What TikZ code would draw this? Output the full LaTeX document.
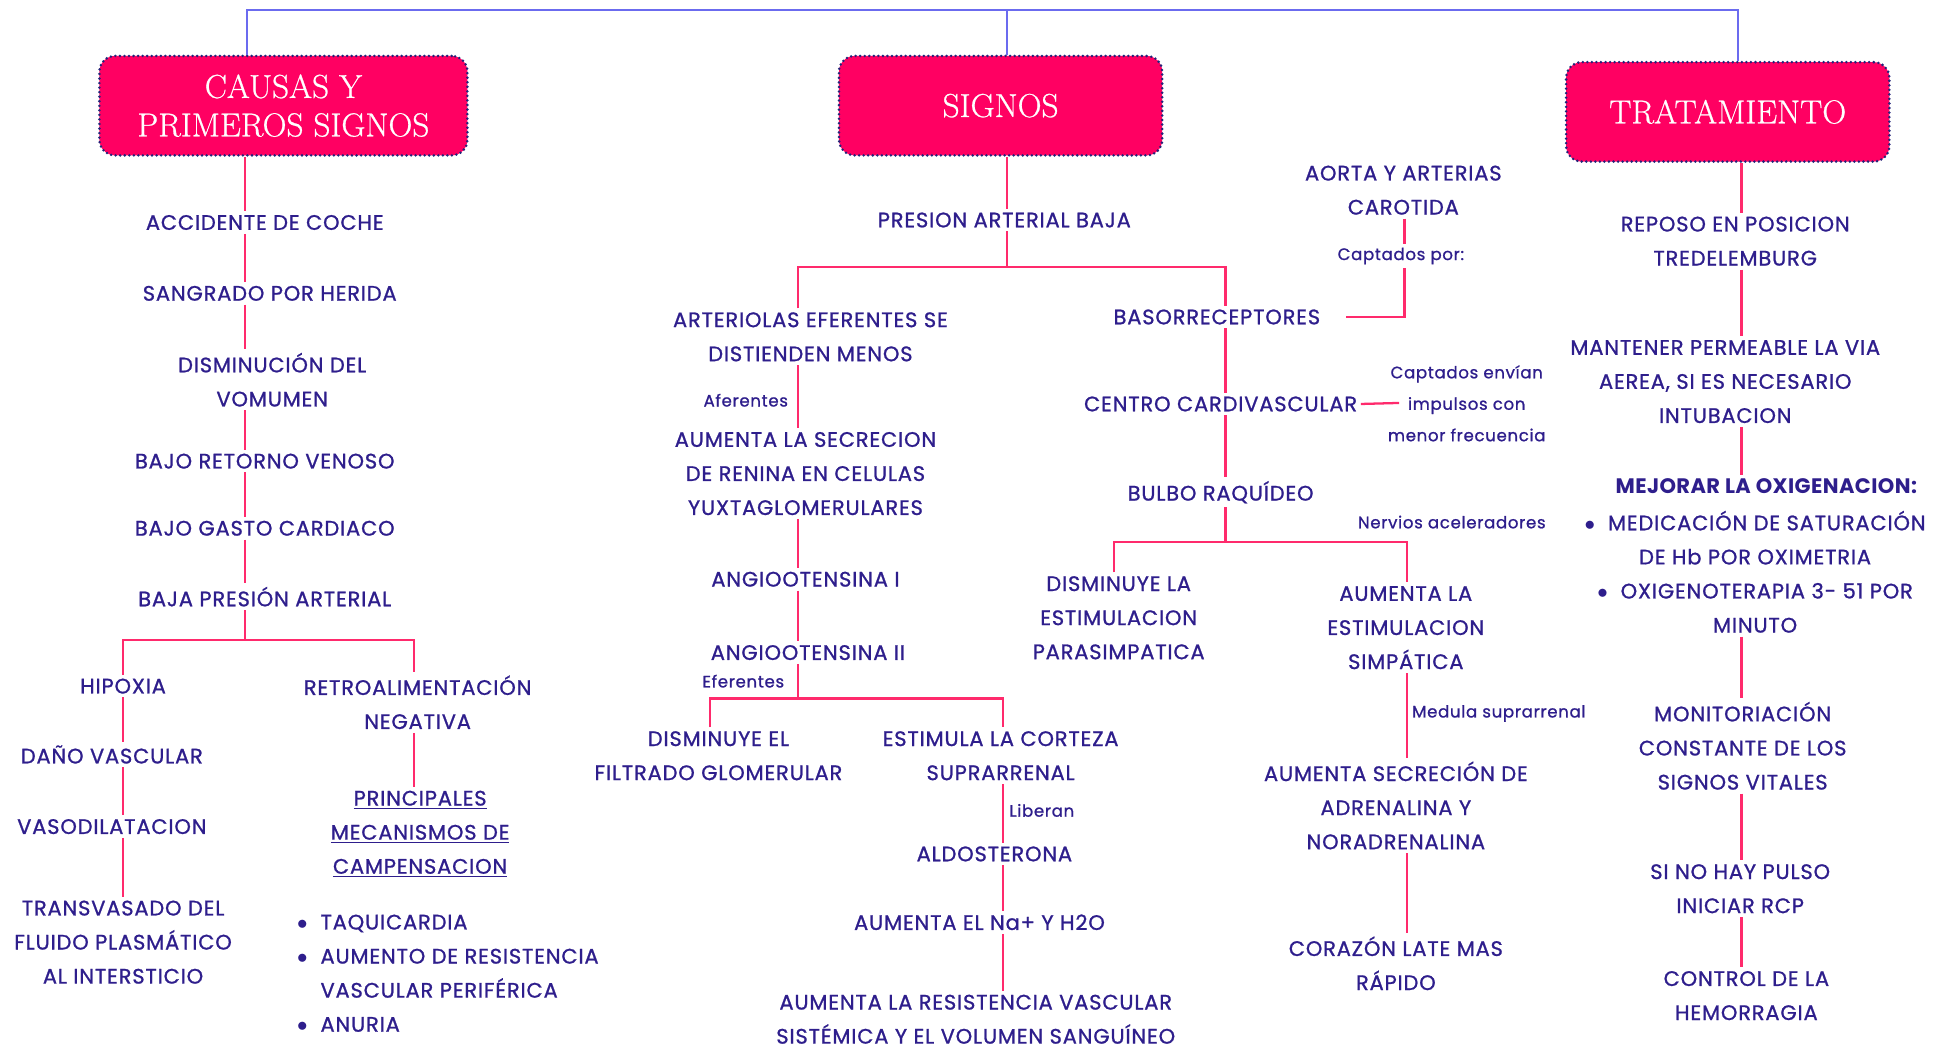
\documentclass[tikz,border=0pt]{standalone}
\usepackage{fontspec}
\usepackage{xcolor}
\usepackage{tikz}
\usetikzlibrary{positioning}

\newfontfamily\bodyfont[LetterSpace=4, FakeBold=1]{Poppins}
\newfontfamily\boldfont[LetterSpace=2]{Poppins Bold}
\newfontfamily\headfont[FakeBold=0.7]{Latin Modern Roman}

\definecolor{ink}{HTML}{2E1E8C}
\definecolor{boxpink}{HTML}{FF0062}
\definecolor{linkpink}{HTML}{FF2A6C}
\definecolor{topblue}{HTML}{6B6BEF}
\definecolor{dotnavy}{HTML}{23237A}

\begin{document}
\begin{tikzpicture}[x=0.025cm, y=-0.025cm]

    % Define style for boxes
    \tikzstyle{main} = [rectangle, rounded corners=9pt, minimum height=2cm, fill=boxpink, draw=dotnavy, line width=1.6pt, dash pattern=on 0pt off 2.6pt, line cap=round, text=white, align=center, font=\headfont\fontsize{19}{22}\selectfont]
    \tikzstyle{sub} = [text=ink, align=center, inner sep=2pt, font=\bodyfont\fontsize{12}{19.5}\selectfont]
    \tikzstyle{note} = [text=ink, align=center, inner sep=2pt, font=\bodyfont\fontsize{9.5}{18}\selectfont]
    \tikzstyle{link} = [draw=linkpink, line width=1.3pt]
    \tikzstyle{top} = [draw=topblue, line width=1.2pt]

    \useasboundingbox (0,0) rectangle (1568,843);

    % Spines
    \coordinate (tl) at (199,8);
    \coordinate (tm) at (810,8);
    \coordinate (tr) at (1398,8);
    \coordinate (lsp) at (197,0);
    \coordinate (hsp) at (99,0);
    \coordinate (rsp) at (333,0);
    \coordinate (msp) at (642,0);
    \coordinate (csp) at (807,0);
    \coordinate (bsp) at (986,0);
    \coordinate (asp) at (1130,0);
    \coordinate (ssp) at (1132,0);
    \coordinate (tsp) at (1401,0);

    % Heads
    \node (causas) [main, minimum width=7.4cm] at (228,85) {CAUSAS Y\\PRIMEROS SIGNOS};
    \node (signos) [main, minimum width=6.5cm] at (805,85) {SIGNOS};
    \node (tratamiento) [main, minimum width=6.5cm] at (1390,90) {TRATAMIENTO};

    % Causas
    \node (accidente) [sub] at (213,179) {ACCIDENTE DE COCHE};
    \node (sangrado) [sub] at (217,236) {SANGRADO POR HERIDA};
    \node (disminucion) [sub] at (219,305.5) {DISMINUCIÓN DEL\\VOMUMEN};
    \node (retorno) [sub] at (213,371) {BAJO RETORNO VENOSO};
    \node (gasto) [sub] at (213,425) {BAJO GASTO CARDIACO};
    \node (bajapres) [sub] at (213,480) {BAJA PRESIÓN ARTERIAL};
    \coordinate (split1) at (197,515);
    \node (hipoxia) [sub] at (99,552) {HIPOXIA};
    \node (dano) [sub] at (90,607) {DAÑO VASCULAR};
    \node (vasodil) [sub] at (90,665) {VASODILATACION};
    \node (transvasado) [sub] at (99,758) {TRANSVASADO DEL\\FLUIDO PLASMÁTICO\\AL INTERSTICIO};
    \node (retroal) [sub] at (336,565) {RETROALIMENTACIÓN\\NEGATIVA};
    \node (principales) [sub] at (338,671) {\underline{PRINCIPALES}\\\underline{MECANISMOS DE}\\\underline{CAMPENSACION}};
    \node (mecanismos) [sub, align=left, anchor=west] at (236,783) {$\bullet$\ \ TAQUICARDIA\\$\bullet$\ \ AUMENTO DE RESISTENCIA\\\phantom{$\bullet$\ \ }VASCULAR PERIFÉRICA\\$\bullet$\ \ ANURIA};

    % Signos
    \node (presart) [sub] at (808,177) {PRESION ARTERIAL BAJA};
    \coordinate (split2) at (810,215);
    \node (arteriolas) [sub] at (652,271) {ARTERIOLAS EFERENTES SE\\DISTIENDEN MENOS};
    \node (aferentes) [note] at (600,322) {Aferentes};
    \node (renina) [sub] at (648,381) {AUMENTA LA SECRECION\\DE RENINA EN CELULAS\\YUXTAGLOMERULARES};
    \node (angioi) [sub] at (648,466) {ANGIOOTENSINA I};
    \node (angioii) [sub] at (650,525) {ANGIOOTENSINA II};
    \node (eferentes) [note] at (598,548) {Eferentes};
    \coordinate (split3) at (642,562);
    \node (filtrado) [sub] at (578,608) {DISMINUYE EL\\FILTRADO GLOMERULAR};
    \node (corteza) [sub] at (805,608) {ESTIMULA LA CORTEZA\\SUPRARRENAL};
    \node (liberan) [note, anchor=west] at (809,652) {Liberan};
    \node (aldosterona) [sub] at (800,687) {ALDOSTERONA};
    \node (sodio) [sub] at (788,742) {AUMENTA EL Na+ Y H2O};
    \node (resistencia) [sub] at (785,820) {AUMENTA LA RESISTENCIA VASCULAR\\SISTÉMICA Y EL VOLUMEN SANGUÍNEO};

    \node (basorrec) [sub] at (979,255) {BASORRECEPTORES};
    \node (aorta) [sub] at (1129,153) {AORTA Y ARTERIAS\\CAROTIDA};
    \node (captados) [note] at (1127,206) {Captados por:};
    \node (centro) [sub] at (982,325) {CENTRO CARDIVASCULAR};
    \node (impulsos) [note] at (1180,324.5) {Captados envían\\impulsos con\\menor frecuencia};
    \node (bulbo) [sub] at (982,396) {BULBO RAQUÍDEO};
    \node (nervios) [note] at (1168,420) {Nervios aceleradores};
    \coordinate (split4) at (986,436);
    \node (parasimp) [sub] at (900,497) {DISMINUYE LA\\ESTIMULACION\\PARASIMPATICA};
    \node (simpatica) [sub] at (1131,505) {AUMENTA LA\\ESTIMULACION\\SIMPÁTICA};
    \node (medula) [note, anchor=west] at (1133,574) {Medula suprarrenal};
    \node (adrenalina) [sub] at (1123,648) {AUMENTA SECRECIÓN DE\\ADRENALINA Y\\NORADRENALINA};
    \node (corazon) [sub] at (1123,775) {CORAZÓN LATE MAS\\RÁPIDO};

    % Tratamiento
    \node (reposo) [sub] at (1396,194) {REPOSO EN POSICION\\TREDELEMBURG};
    \node (mantener) [sub] at (1388,307) {MANTENER PERMEABLE LA VIA\\AEREA, SI ES NECESARIO\\INTUBACION};
    \node (mejorar) [sub, font=\boldfont\fontsize{12}{19.5}\selectfont] at (1421,391) {MEJORAR LA OXIGENACION:};
    \node (oxig) [sub] at (1412,460) {$\bullet$\ \ MEDICACIÓN DE SATURACIÓN\\DE Hb POR OXIMETRIA\\$\bullet$\ \ OXIGENOTERAPIA 3- 51 POR\\MINUTO};
    \node (monitor) [sub] at (1402,600) {MONITORIACIÓN\\CONSTANTE DE LOS\\SIGNOS VITALES};
    \node (pulso) [sub] at (1400,715) {SI NO HAY PULSO\\INICIAR RCP};
    \node (control) [sub] at (1405,801) {CONTROL DE LA\\HEMORRAGIA};

    % Lines
    \draw[top] (causas.north -| tl) -- (tl) -- (tr) -- (tratamiento.north -| tr);
    \draw[top] (tm) -- (signos.north -| tm);

    \draw[link] (causas.south -| lsp) -- (accidente.north -| lsp);
    \draw[link] (accidente.south -| lsp) -- (sangrado.north -| lsp);
    \draw[link] (sangrado.south -| lsp) -- (disminucion.north -| lsp);
    \draw[link] (disminucion.south -| lsp) -- (retorno.north -| lsp);
    \draw[link] (retorno.south -| lsp) -- (gasto.north -| lsp);
    \draw[link] (gasto.south -| lsp) -- (bajapres.north -| lsp);
    \draw[link] (bajapres.south -| lsp) -- (split1);
    \draw[link] (hipoxia.north -| hsp) |- (split1) -| (retroal.north -| rsp);
    \draw[link] (hipoxia.south -| hsp) -- (dano.north -| hsp);
    \draw[link] (dano.south -| hsp) -- (vasodil.north -| hsp);
    \draw[link] (vasodil.south -| hsp) -- (transvasado.north -| hsp);
    \draw[link] (retroal.south -| rsp) -- (principales.north -| rsp);

    \draw[link] (signos.south -| tm) -- (presart.north -| tm);
    \draw[link] (presart.south -| tm) -- (split2);
    \draw[link] (arteriolas.north -| msp) |- (split2) -| (basorrec.north -| bsp);
    \draw[link] (arteriolas.south -| msp) -- (renina.north -| msp);
    \draw[link] (renina.south -| msp) -- (angioi.north -| msp);
    \draw[link] (angioi.south -| msp) -- (angioii.north -| msp);
    \draw[link] (angioii.south -| msp) -- (split3);
    \draw[link] (filtrado.north -| 571,0) |- (split3) -| (corteza.north -| csp);
    \draw[link] (corteza.south -| csp) -- (aldosterona.north -| csp);
    \draw[link] (aldosterona.south -| csp) -- (sodio.north -| csp);
    \draw[link] (sodio.south -| csp) -- (resistencia.north -| csp);

    \draw[link] (aorta.south -| asp) -- (captados.north -| asp);
    \draw[link, shorten >=0.45cm] (captados.south -| asp) |- (basorrec.east);
    \draw[link] (basorrec.south -| bsp) -- (centro.north -| bsp);
    \draw[link, shorten >=-0.3cm] (centro.east) -- (impulsos.west);
    \draw[link] (centro.south -| bsp) -- (bulbo.north -| bsp);
    \draw[link] (bulbo.south -| bsp) -- (split4);
    \draw[link] (parasimp.north -| 896,0) |- (split4) -| (simpatica.north -| ssp);
    \draw[link] (simpatica.south -| ssp) -- (adrenalina.north -| ssp);
    \draw[link] (adrenalina.south -| ssp) -- (corazon.north -| ssp);

    \draw[link] (tratamiento.south -| tsp) -- (reposo.north -| tsp);
    \draw[link] (reposo.south -| tsp) -- (mantener.north -| tsp);
    \draw[link] (mantener.south -| tsp) -- (mejorar.north -| tsp);
    \draw[link] (oxig.south -| tsp) -- (monitor.north -| tsp);
    \draw[link] (monitor.south -| tsp) -- (pulso.north -| tsp);
    \draw[link] (pulso.south -| tsp) -- (control.north -| tsp);

\end{tikzpicture}
\end{document}
